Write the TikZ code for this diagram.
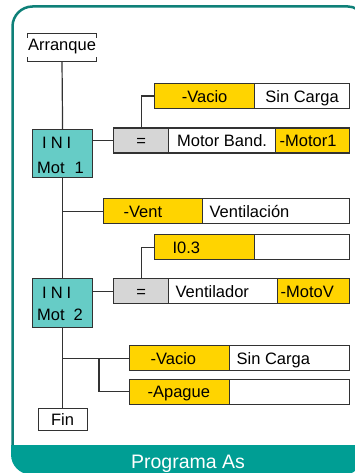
\documentclass[tikz,border=0pt]{standalone}
\usepackage{fontspec}
\setmainfont{Liberation Sans}
\definecolor{framec}{RGB}{14,128,120}
\definecolor{bandc}{RGB}{0,158,148}
\definecolor{tealbox}{RGB}{102,204,198}
\definecolor{yel}{RGB}{255,212,0}
\definecolor{grayfill}{RGB}{214,214,214}
\definecolor{lin}{RGB}{50,50,50}
\newcommand\celltxt[3]{\makebox[#1pt][l]{\hspace{#2pt}#3}}
\newcommand\cellctr[2]{\makebox[#1pt][c]{#2}}
\tikzset{
  txt/.style={inner sep=0pt, font=\fontsize{16.5}{18}\selectfont, text height=12pt, text depth=0pt},
  cell/.style={txt, draw=lin, line width=1.2pt, minimum height=25pt, anchor=north west},
  ylw/.style={cell, fill=yel},
  wht/.style={cell, fill=white},
  gry/.style={cell, fill=grayfill},
  stepbox/.style={cell, fill=tealbox},
  conn/.style={draw=lin, line width=1.2pt},
}
\begin{document}
\begin{tikzpicture}[x=1pt,y=-1pt]
\useasboundingbox (0,0) rectangle (355,473);
% frame and band
\begin{scope}
\clip[rounded corners=20pt] (11,5) rectangle (364,474.5);
\fill[bandc] (0,444.5) rectangle (400,480);
\end{scope}
\draw[framec, line width=2.5pt] (12.5,445) -- (12.5,26.5) .. controls (12.5,15.5) and (21.5,6.5) .. (32.5,6.5) -- (348,6.5) .. controls (354,6.5) and (361,10) .. (361,16.5) -- (361,445);
\node[txt, font=\fontsize{19.5}{22}\selectfont, text=white, anchor=base] (title) at (188,468) {Programa As};

% Arranque
\node[txt, minimum width=61pt, minimum height=27pt, text height=10pt, text depth=4pt] (arr) at (62,47.5) {Arranque};
\draw[conn, line width=1pt] ([yshift=-4pt]arr.north west) -- (arr.north west) -- (arr.north east) -- ([yshift=-4pt]arr.north east);
\draw[conn, line width=1pt] ([yshift=4pt]arr.south west) -- (arr.south west) -- (arr.south east) -- ([yshift=4pt]arr.south east);

% step 1
\node[stepbox, minimum width=60pt, minimum height=48pt] (ini1) at (32,129) {};
\node[txt, anchor=base west] (ini1a) at (42,149) {I\hspace{4pt}N\hspace{4pt}I};
\node[txt, anchor=base west] (ini1b) at (37,173) {Mot\hspace{10pt}1};
\node[gry, minimum width=55pt] (eq1) at (113,127.5) {\cellctr{55}{=}};
\node[wht, minimum width=107pt] (mb) at (168,127.5) {\cellctr{107}{Motor Band.}};
\node[ylw, minimum width=74pt] (m1) at (275,127.5) {\celltxt{74}{4}{-Motor1}};
\node[ylw, minimum width=100pt] (vac1) at (154,83) {\cellctr{100}{-Vacio}};
\node[wht, minimum width=95pt] (sc1) at (254,83) {\cellctr{95}{Sin Carga}};

% vent
\node[ylw, minimum width=99pt] (vent) at (103,198) {\celltxt{99}{20}{-Vent}};
\node[wht, minimum width=147pt] (ventd) at (202,198) {\celltxt{147}{7}{Ventilación}};

% step 2
\node[stepbox, minimum width=60pt, minimum height=49pt] (ini2) at (32,278) {};
\node[txt, anchor=base west] (ini2a) at (42,298) {I\hspace{4pt}N\hspace{4pt}I};
\node[txt, anchor=base west] (ini2b) at (37,320) {Mot\hspace{9pt}2};
\node[ylw, minimum width=100pt] (io3) at (154,234) {\celltxt{100}{18}{I0.3}};
\node[wht, minimum width=95pt] (io3b) at (254,234) {};
\node[gry, minimum width=55pt] (eq2) at (113,278) {\cellctr{55}{=}};
\node[wht, minimum width=109pt] (vtl) at (168,278) {\celltxt{109}{7}{Ventilador}};
\node[ylw, minimum width=72pt] (mv) at (277,278) {\celltxt{72}{3}{-MotoV}};

% final actions
\node[ylw, minimum width=100pt] (vac2) at (129,345) {\celltxt{100}{21}{-Vacio}};
\node[wht, minimum width=120pt] (sc2) at (229,345) {\celltxt{120}{7}{Sin Carga}};
\node[ylw, minimum width=100pt] (apague) at (129,378.5) {\celltxt{100}{18}{-Apague}};
\node[wht, minimum width=120pt] (apb) at (229,378.5) {};
\node[wht, minimum width=49pt, minimum height=22pt] (fin) at (37.5,408) {\cellctr{49}{Fin}};

% connectors
\draw[conn] (arr.south) -- (ini1.north);
\draw[conn] (ini1.south) -- (ini2.north);
\draw[conn] (ini2.south) -- (fin.north);
\draw[conn] (eq1.west -| ini1.east) -- (eq1.west);
\draw[conn] (eq1.north) |- (vac1.west);
\draw[conn] (vent.west) -- (vent.west -| ini1.south);
\draw[conn] (eq2.west -| ini2.east) -- (eq2.west);
\draw[conn] (eq2.north) |- (io3.west);
\draw[conn] (vac2.west) -- (vac2.west -| ini2.south);
\coordinate (br) at ([xshift=-30pt]vac2.west);
\draw[conn] (br) |- (apague.west);
\end{tikzpicture}
\end{document}
